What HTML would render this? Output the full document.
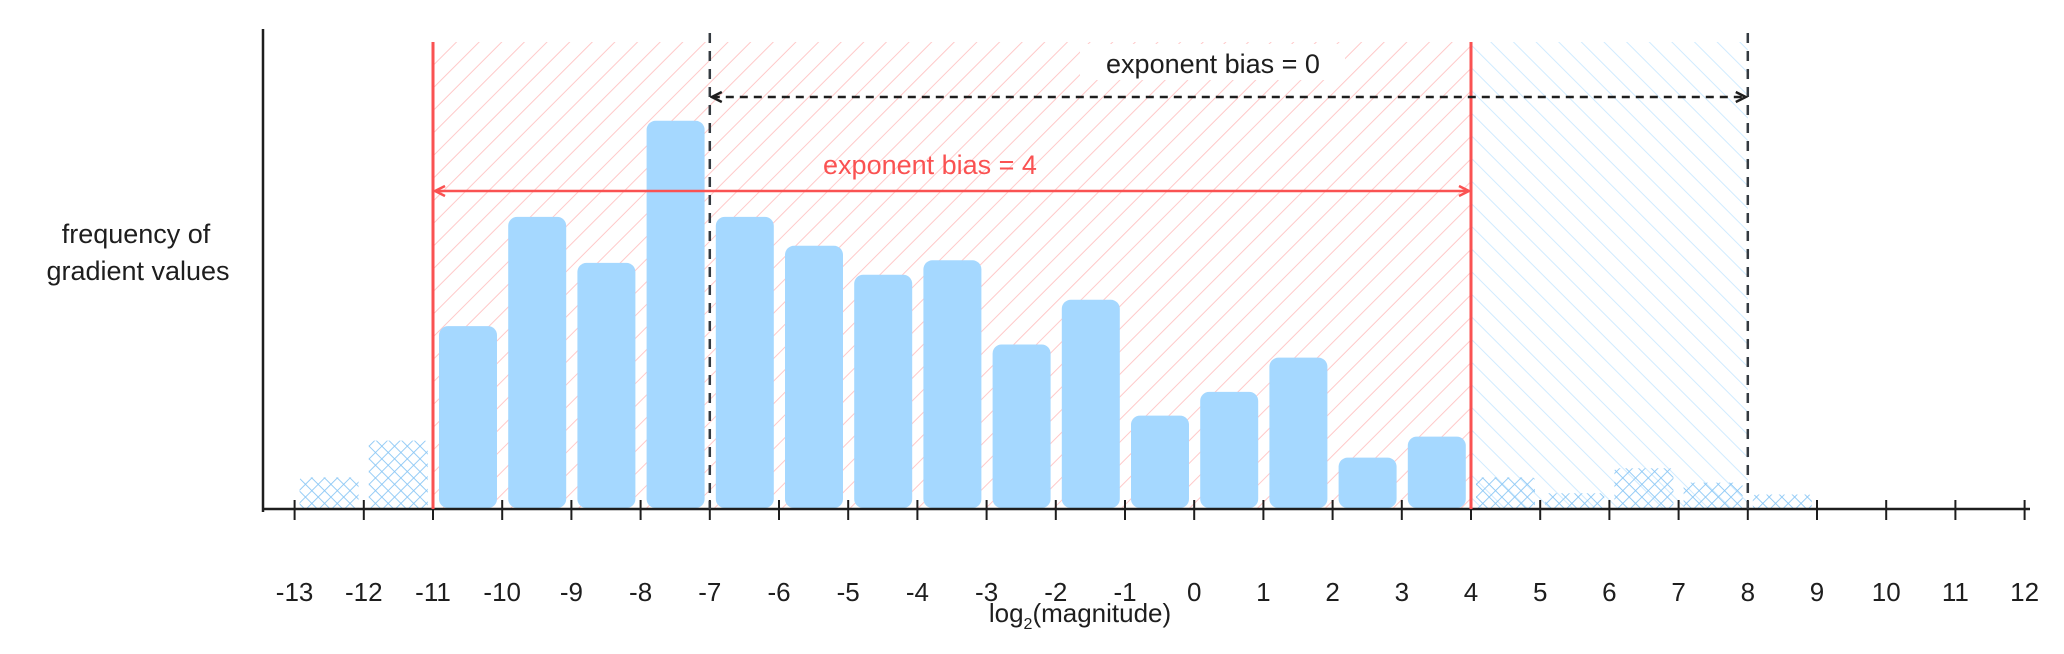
<!DOCTYPE html>
<html><head><meta charset="utf-8"><style>
html,body{margin:0;padding:0;background:#fff;}
svg{display:block;}
text{font-family:"Liberation Sans",sans-serif;}
</style></head><body>
<svg id="chart" width="2064" height="654" viewBox="0 0 2064 654" xmlns="http://www.w3.org/2000/svg">
<defs>
<pattern id="redHatch" patternUnits="userSpaceOnUse" width="16" height="16" patternTransform="rotate(45)">
<line x1="0" y1="0" x2="0" y2="16" stroke="#ffc9c9" stroke-width="2"/></pattern>
<pattern id="blueHatch" patternUnits="userSpaceOnUse" width="16" height="16" patternTransform="rotate(-45)">
<line x1="0" y1="0" x2="0" y2="16" stroke="#d0ebff" stroke-width="2"/></pattern>
<pattern id="cross" patternUnits="userSpaceOnUse" width="9" height="9" patternTransform="rotate(45)">
<line x1="0" y1="0" x2="0" y2="9" stroke="#8cc8f5" stroke-width="1.8"/>
<line x1="0" y1="0" x2="9" y2="0" stroke="#8cc8f5" stroke-width="1.8"/></pattern>
<marker id="arrR" markerUnits="userSpaceOnUse" markerWidth="14" markerHeight="14" refX="12" refY="7" orient="auto-start-reverse"><path d="M2,2 L12,7 L2,12" fill="none" stroke="#fa5252" stroke-width="2.5"/></marker>
<marker id="arrK" markerUnits="userSpaceOnUse" markerWidth="14" markerHeight="14" refX="12" refY="7" orient="auto-start-reverse"><path d="M2,2 L12,7 L2,12" fill="none" stroke="#1e1e1e" stroke-width="2.5"/></marker>
</defs>
<g id="layer"></g>
</svg>
<script>
const tickValues = [-13,-12,-11,-10,-9,-8,-7,-6,-5,-4,-3,-2,-1,0,1,2,3,4,5,6,7,8,9,10,11,12];
const solidStarts = [-11,-10,-9,-8,-7,-6,-5,-4,-3,-2,-1,0,1,2,3];
const solidValues = [139,222,187,295,222,200,178,189,125,159,71,89,115,39,55];
const faintStarts = [-13,-12,4,5,6,7,8];
const faintValues = [24,52,24,12,31,20,11];
const bias4Range = [-11,4];
const bias0Range = [-7,8];

const NS='http://www.w3.org/2000/svg';
const g=document.getElementById('layer');
const x=v=>433+(v+11)*69.2;
const y=v=>509-v*1.316;
const base=509;
function mk(t,a){const e=document.createElementNS(NS,t);for(const k in a)e.setAttribute(k,a[k]);g.appendChild(e);return e;}

let r=mk('rect',{x:x(bias4Range[0]),y:42,width:x(bias4Range[1])-x(bias4Range[0]),height:base-42,fill:'url(#redHatch)'});


r=mk('rect',{x:x(bias4Range[1]),y:42,width:x(bias0Range[1])-x(bias4Range[1]),height:base-42,fill:'url(#blueHatch)'});



faintStarts.forEach((s,i)=>{
  const b=mk('rect',{x:x(s)+5,y:y(faintValues[i]),width:59,height:base-y(faintValues[i]),fill:'url(#cross)',rx:3});
  
  
});
solidStarts.forEach((s,i)=>{
  const b=mk('rect',{x:x(s)+6,y:y(solidValues[i]),width:58,height:base-y(solidValues[i])-1,fill:'#a5d8ff',rx:9});
  
  
});

let a=mk('line',{x1:263,y1:29,x2:263,y2:base+3,stroke:'#1e1e1e','stroke-width':2.5});


a=mk('line',{x1:262,y1:base,x2:2030,y2:base,stroke:'#1e1e1e','stroke-width':2.5});


tickValues.forEach(v=>{
  const t=mk('line',{x1:x(v),y1:base-9,x2:x(v),y2:base+11,stroke:'#1e1e1e','stroke-width':2});
  
  
  const l=mk('text',{x:x(v),y:601,'text-anchor':'middle','font-size':26,fill:'#1e1e1e'});
  l.textContent=v;
  
  
});

[bias4Range[0],bias4Range[1]].forEach(v=>{
  const l=mk('line',{x1:x(v),y1:42,x2:x(v),y2:base,stroke:'#fa5252','stroke-width':3});
  
  
});
[bias0Range[0],bias0Range[1]].forEach(v=>{
  const l=mk('line',{x1:x(v),y1:33,x2:x(v),y2:base,stroke:'#343a40','stroke-width':2.5,'stroke-dasharray':'10 8'});
  
  
});
let ar=mk('line',{x1:x(bias4Range[0])+2,y1:191,x2:x(bias4Range[1])-2,y2:191,stroke:'#fa5252','stroke-width':2.5,'marker-start':'url(#arrR)','marker-end':'url(#arrR)'});


ar=mk('line',{x1:x(bias0Range[0])+2,y1:97,x2:x(bias0Range[1])-2,y2:97,stroke:'#1e1e1e','stroke-width':2.5,'stroke-dasharray':'8 6','marker-start':'url(#arrK)','marker-end':'url(#arrK)'});



function txt(s,xx,yy,fs,fill,name,anchor){const t=mk('text',{x:xx,y:yy,'font-size':fs,fill:fill,'text-anchor':anchor||'middle'});t.textContent=s;return t;}
const bg=mk('rect',{x:1080,y:44,width:265,height:36,fill:'#fff'});


txt('exponent bias = 0',1213,73,27,'#1e1e1e','bias-0-label');
txt('exponent bias = 4',930,174,27,'#fa5252','bias-4-label');
txt('frequency of',136,243,27,'#1e1e1e','y-axis-title-line1');
txt('gradient values',138,280,27,'#1e1e1e','y-axis-title-line2');
const xt=mk('text',{x:1080,y:622,'font-size':26,fill:'#1e1e1e','text-anchor':'middle'});
xt.innerHTML='log<tspan font-size="16" dy="7">2</tspan><tspan dy="-7">(magnitude)</tspan>';


</script>
</body></html>
